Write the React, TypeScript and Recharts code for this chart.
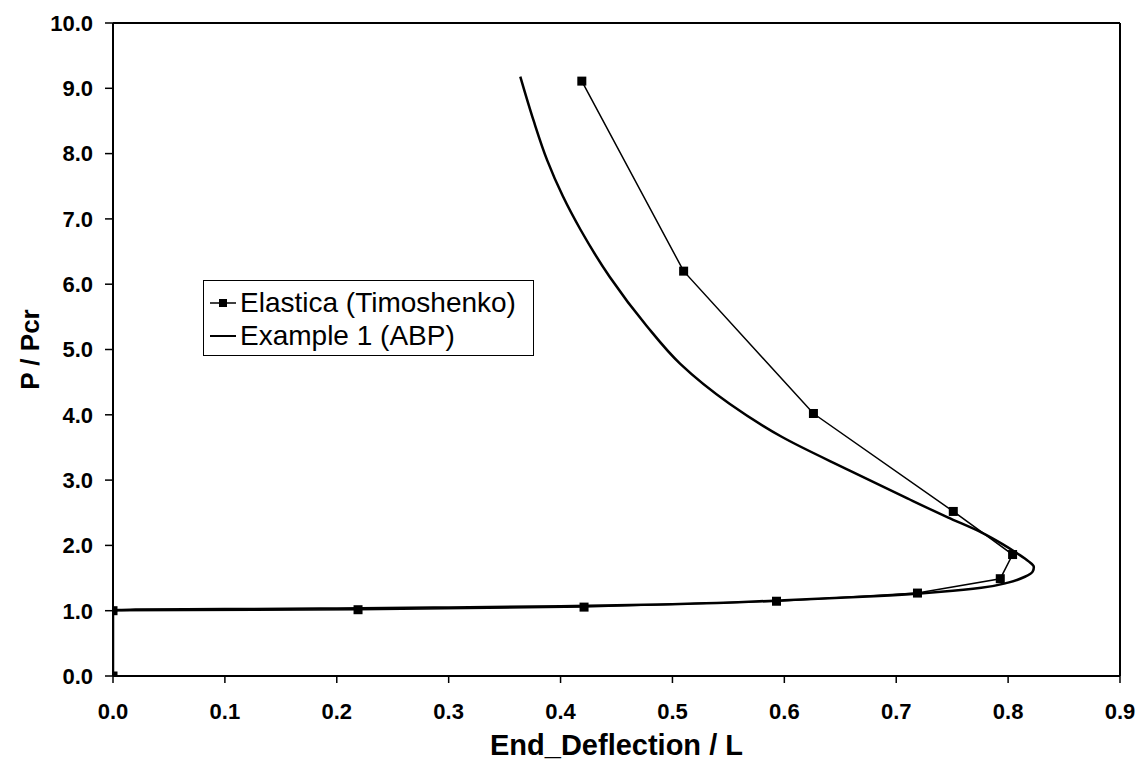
import React from 'react';
import { ComposedChart, Line, XAxis, YAxis, ReferenceLine, Legend, Label } from 'recharts';

const elasticaX = [0, 0, 0.219, 0.421, 0.593, 0.719, 0.793, 0.804, 0.751, 0.626, 0.51, 0.419];
const elasticaY = [0, 1.0, 1.015, 1.055, 1.145, 1.27, 1.49, 1.86, 2.52, 4.02, 6.2, 9.11];

const abpX = [0, 0, 0.02, 0.1, 0.2, 0.3, 0.4, 0.5, 0.6, 0.68, 0.74, 0.776, 0.8, 0.815, 0.822, 0.823, 0.818, 0.808, 0.795, 0.776, 0.746, 0.71, 0.658, 0.598, 0.551, 0.507, 0.477, 0.444, 0.418, 0.402, 0.388, 0.376, 0.364];
const abpY = [0, 1.0, 1.02, 1.025, 1.035, 1.05, 1.07, 1.1, 1.16, 1.22, 1.29, 1.35, 1.43, 1.52, 1.6, 1.67, 1.76, 1.88, 2.02, 2.2, 2.43, 2.72, 3.15, 3.66, 4.17, 4.78, 5.36, 6.11, 6.83, 7.35, 7.9, 8.5, 9.18];

const xTicks = [0, 0.1, 0.2, 0.3, 0.4, 0.5, 0.6, 0.7, 0.8, 0.9];
const yTicks = [0, 1, 2, 3, 4, 5, 6, 7, 8, 9, 10];

const seriesNames = ['Elastica (Timoshenko)', 'Example 1 (ABP)'];

const elasticaData = elasticaX.map((x, i) => ({ x, y: elasticaY[i] }));
const abpData = abpX.map((x, i) => ({ x, y: abpY[i] }));

const FONT = '"Liberation Sans", Arial, sans-serif';

const SquareDot = (props: any) => {
  const { cx, cy, index } = props;
  if (cx == null || cy == null) return null;
  return <rect key={`sq-${index}`} x={cx - 4.5} y={cy - 4.5} width={9} height={9} fill="#000" />;
};

const LegendBox = () => (
  <div
    style={{
      border: '1px solid #000',
      background: '#fff',
      width: 331,
      height: 76,
      boxSizing: 'border-box',
      fontFamily: FONT,
      fontSize: 28,
      padding: '5px 0 0 5px',
      color: '#000',
    }}
  >
    {seriesNames.map((name, i) => (
      <div key={name} style={{ display: 'flex', alignItems: 'center', height: 33, whiteSpace: 'nowrap' }}>
        <svg width={28} height={14} style={{ marginRight: 3 }}>
          <line x1={1} y1={7} x2={27} y2={7} stroke="#000" strokeWidth={i === 0 ? 1.5 : 2} />
          {i === 0 && <rect x={10} y={3} width={8} height={8} fill="#000" />}
        </svg>
        <span>{name}</span>
      </div>
    ))}
  </div>
);

export default function App() {
  return (
    <div style={{ position: 'absolute', left: 0, top: 0, width: 1148, height: 767, background: '#fff' }}>
      <ComposedChart width={1148} height={767} margin={{ top: 23, right: 28, bottom: 0, left: 0 }}>
        <XAxis
          type="number"
          dataKey="x"
          domain={[0, 0.9]}
          ticks={xTicks}
          interval={0}
          allowDataOverflow
          tickFormatter={(v: number) => v.toFixed(1)}
          height={91}
          tickSize={7}
          tickMargin={20}
          axisLine={{ stroke: '#000', strokeWidth: 2 }}
          tickLine={{ stroke: '#000', strokeWidth: 1.5 }}
          tick={{ fill: '#000', fontSize: 22, fontWeight: 'bold', fontFamily: FONT }}
        >
          <Label
            content={(p: any) => {
              const vb = p.viewBox;
              return (
                <text
                  x={vb.x + vb.width / 2}
                  y={vb.y + 79}
                  textAnchor="middle"
                  fontFamily={FONT}
                  fontWeight="bold"
                  fontSize={29}
                  fill="#000"
                >
                  End_Deflection / L
                </text>
              );
            }}
          />
        </XAxis>
        <YAxis
          type="number"
          dataKey="y"
          domain={[0, 10]}
          ticks={yTicks}
          interval={0}
          allowDataOverflow
          tickFormatter={(v: number) => v.toFixed(1)}
          width={113}
          tickSize={8}
          tickMargin={12}
          axisLine={{ stroke: '#000', strokeWidth: 2 }}
          tickLine={{ stroke: '#000', strokeWidth: 1.5 }}
          tick={{ fill: '#000', fontSize: 22, fontWeight: 'bold', fontFamily: FONT }}
        >
          <Label
            content={(p: any) => {
              const vb = p.viewBox;
              const cx = 39;
              const cy = vb.y + vb.height / 2;
              return (
                <text
                  x={cx}
                  y={cy}
                  transform={`rotate(-90, ${cx}, ${cy})`}
                  textAnchor="middle"
                  fontFamily={FONT}
                  fontWeight="bold"
                  fontSize={26}
                  fill="#000"
                >
                  P / Pcr
                </text>
              );
            }}
          />
        </YAxis>
        <ReferenceLine y={10} stroke="#000" strokeWidth={2} ifOverflow="visible" />
        <ReferenceLine x={0.9} stroke="#000" strokeWidth={2} ifOverflow="visible" />
        <Legend
          layout="vertical"
          align="center"
          verticalAlign="middle"
          content={<LegendBox />}
          wrapperStyle={{ position: 'absolute', left: 203, top: 280, width: 331, height: 76 }}
        />
        <Line
          data={abpData}
          dataKey="y"
          name={seriesNames[1]}
          type="monotoneY"
          stroke="#000"
          strokeWidth={2.5}
          dot={false}
          activeDot={false}
          isAnimationActive={false}
        />
        <Line
          data={elasticaData}
          dataKey="y"
          name={seriesNames[0]}
          type="linear"
          stroke="#000"
          strokeWidth={1.5}
          dot={<SquareDot />}
          activeDot={false}
          isAnimationActive={false}
        />
      </ComposedChart>
    </div>
  );
}
